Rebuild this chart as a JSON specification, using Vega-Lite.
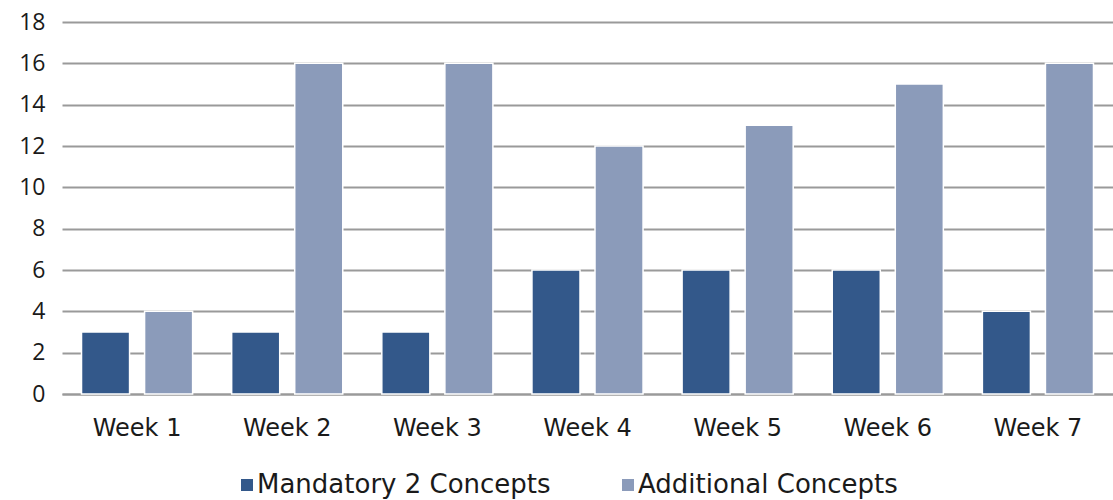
{
  "$schema": "https://vega.github.io/schema/vega-lite/v6.json",
  "width": 1051,
  "height": 372,
  "autosize": {"type": "none"},
  "padding": {"left": 62, "top": 22, "right": 0, "bottom": 106},
  "background": "white",
  "data": {"values": [
    {"week": "Week 1", "series": "Mandatory 2 Concepts", "value": 3},
    {"week": "Week 1", "series": "Additional Concepts", "value": 4},
    {"week": "Week 2", "series": "Mandatory 2 Concepts", "value": 3},
    {"week": "Week 2", "series": "Additional Concepts", "value": 16},
    {"week": "Week 3", "series": "Mandatory 2 Concepts", "value": 3},
    {"week": "Week 3", "series": "Additional Concepts", "value": 16},
    {"week": "Week 4", "series": "Mandatory 2 Concepts", "value": 6},
    {"week": "Week 4", "series": "Additional Concepts", "value": 12},
    {"week": "Week 5", "series": "Mandatory 2 Concepts", "value": 6},
    {"week": "Week 5", "series": "Additional Concepts", "value": 13},
    {"week": "Week 6", "series": "Mandatory 2 Concepts", "value": 6},
    {"week": "Week 6", "series": "Additional Concepts", "value": 15},
    {"week": "Week 7", "series": "Mandatory 2 Concepts", "value": 4},
    {"week": "Week 7", "series": "Additional Concepts", "value": 16}
  ]},
  "config": {
    "view": {"stroke": null},
    "font": "DejaVu Sans"
  },
  "mark": {"type": "bar", "stroke": "white", "strokeWidth": 1.5},
  "encoding": {
    "x": {
      "field": "week", "type": "nominal", "sort": null,
      "scale": {"paddingInner": 0.26, "paddingOuter": 0.13},
      "axis": {"title": null, "labelAngle": 0, "labelFontSize": 24, "labelColor": "#1a1a1a", "labelPadding": 22, "ticks": false, "domainColor": "#9a9a9a", "domainWidth": 2}
    },
    "xOffset": {
      "field": "series", "type": "nominal",
      "sort": ["Mandatory 2 Concepts", "Additional Concepts"],
      "scale": {"paddingInner": 0.238, "paddingOuter": 0}
    },
    "y": {
      "field": "value", "type": "quantitative",
      "scale": {"domain": [0, 18]},
      "axis": {"title": null, "values": [0, 2, 4, 6, 8, 10, 12, 14, 16, 18], "labelFont": "Open Sans", "labelFontSize": 23, "labelColor": "#1a1a1a", "labelPadding": 17, "ticks": false, "domain": false, "gridColor": "#9a9a9a", "gridWidth": 2}
    },
    "color": {
      "field": "series", "type": "nominal",
      "sort": ["Mandatory 2 Concepts", "Additional Concepts"],
      "scale": {"range": ["#33588A", "#8B9BBA"]},
      "legend": {
        "title": null, "orient": "none", "direction": "horizontal",
        "legendX": 172, "legendY": 450,
        "symbolType": "square", "symbolSize": 144, "symbolStrokeWidth": 0,
        "labelFontSize": 26, "labelColor": "#1a1a1a", "labelOffset": -3,
        "columnPadding": 64, "labelLimit": 400
      }
    }
  }
}
